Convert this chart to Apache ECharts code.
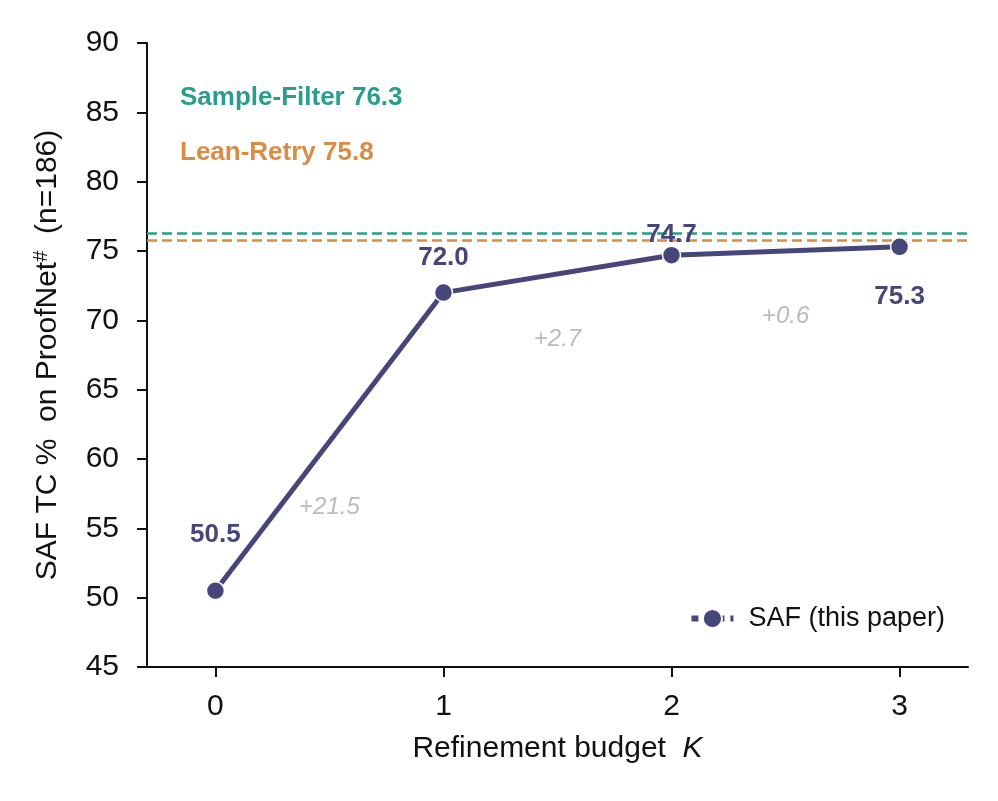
<!DOCTYPE html>
<html>
<head>
<meta charset="utf-8">
<script src="https://cdn.jsdelivr.net/npm/echarts@6/dist/echarts.min.js"></script>
<style>
  html, body { margin: 0; padding: 0; background: #fff; }
  #main { width: 998px; height: 801px; }
</style>
</head>
<body>
<div id="main"></div>
<script>
// data
var budgets = [0, 1, 2, 3];
var safScores = [50.5, 72.0, 74.7, 75.3];
var baselineNames = ['Sample-Filter', 'Lean-Retry'];
var baselineScores = [76.3, 75.8];

var FONT = '"Liberation Sans", Arial, sans-serif';
var SAF_COLOR = '#46467a';
var BASE_COLORS = ['#2a9d8f', '#d98c45'];

// where each value label sits relative to its point
var labelOffsets = [[0, -56], [0, -35], [0, -20], [0, 50]];

var safData = budgets.map(function (k, i) {
  return {
    value: [k, safScores[i]],
    label: { offset: labelOffsets[i] }
  };
});

// gains between consecutive budgets, placed under the segment midpoints
var gainData = [];
for (var i = 1; i < budgets.length; i++) {
  var gain = safScores[i] - safScores[i - 1];
  gainData.push({
    value: [(budgets[i] + budgets[i - 1]) / 2, (safScores[i] + safScores[i - 1]) / 2 - 4.7],
    gain: gain
  });
}

var myChart = echarts.init(document.getElementById('main'), null, { renderer: 'canvas' });

var option = {
  animation: false,
  textStyle: { fontFamily: FONT },
  grid: { left: 147, right: 30, top: 43, bottom: 134 },
  legend: {
    data: ['SAF (this paper)'],
    right: 48,
    top: 600,
    itemWidth: 42,
    itemHeight: 24,
    textStyle: { fontSize: 27, color: '#111', fontFamily: FONT, padding: [0, 0, 0, 10] },
    lineStyle: { type: [7, 6], width: 6 }
  },
  xAxis: {
    type: 'value',
    min: -0.3,
    max: 3.3,
    name: 'Refinement budget  {i|K}',
    nameLocation: 'middle',
    nameGap: 67,
    nameTextStyle: {
      fontSize: 30, color: '#111', fontFamily: FONT,
      rich: { i: { fontSize: 30, fontStyle: 'italic', color: '#111', fontFamily: FONT } }
    },
    splitLine: { show: false },
    axisLine: { onZero: false, lineStyle: { color: '#111', width: 2 } },
    axisTick: { customValues: budgets, length: 10, lineStyle: { color: '#111', width: 2 } },
    axisLabel: { customValues: budgets, fontSize: 30, color: '#111', margin: 25 }
  },
  yAxis: {
    type: 'value',
    min: 45,
    max: 90,
    interval: 5,
    name: 'SAF TC %  on ProofNet{sup|#}  (n=186)',
    nameLocation: 'middle',
    nameGap: 82,
    nameTextStyle: {
      fontSize: 30, color: '#111', fontFamily: FONT,
      rich: { sup: { fontSize: 20, color: '#111', fontFamily: FONT, padding: [0, 0, 14, 0] } }
    },
    splitLine: { show: false },
    axisLine: { show: true, onZero: false, lineStyle: { color: '#111', width: 2 } },
    axisTick: { show: true, length: 10, lineStyle: { color: '#111', width: 2 } },
    axisLabel: { fontSize: 30, color: '#111', margin: 28 }
  },
  graphic: baselineNames.map(function (n, i) {
    return {
      type: 'text',
      left: 180,
      top: 85 + i * 55,
      style: {
        text: n + ' ' + baselineScores[i].toFixed(1),
        fill: BASE_COLORS[i],
        font: 'bold 26px ' + FONT
      }
    };
  }),
  series: [
    {
      name: 'baselines',
      type: 'line',
      data: [],
      silent: true,
      markLine: {
        symbol: 'none',
        silent: true,
        label: { show: false },
        data: baselineScores.map(function (v, i) {
          return { yAxis: v, lineStyle: { color: BASE_COLORS[i], type: [10, 5], width: 2.5 } };
        })
      }
    },
    {
      name: 'SAF (this paper)',
      type: 'line',
      data: safData,
      color: SAF_COLOR,
      lineStyle: { width: 5, color: SAF_COLOR },
      symbol: 'circle',
      symbolSize: 18,
      itemStyle: { color: SAF_COLOR, borderColor: '#fff', borderWidth: 1.5 },
      label: {
        show: true,
        position: 'inside',
        formatter: function (p) { return p.value[1].toFixed(1); },
        fontSize: 26,
        fontWeight: 'bold',
        color: SAF_COLOR
      },
      z: 5
    },
    {
      name: 'gains',
      type: 'scatter',
      data: gainData,
      symbolSize: 0,
      silent: true,
      label: {
        show: true,
        position: 'inside',
        formatter: function (p) { return '+' + p.data.gain.toFixed(1); },
        fontSize: 24,
        fontStyle: 'italic',
        color: '#aaaaaa'
      }
    }
  ]
};

myChart.setOption(option);
</script>
</body>
</html>
